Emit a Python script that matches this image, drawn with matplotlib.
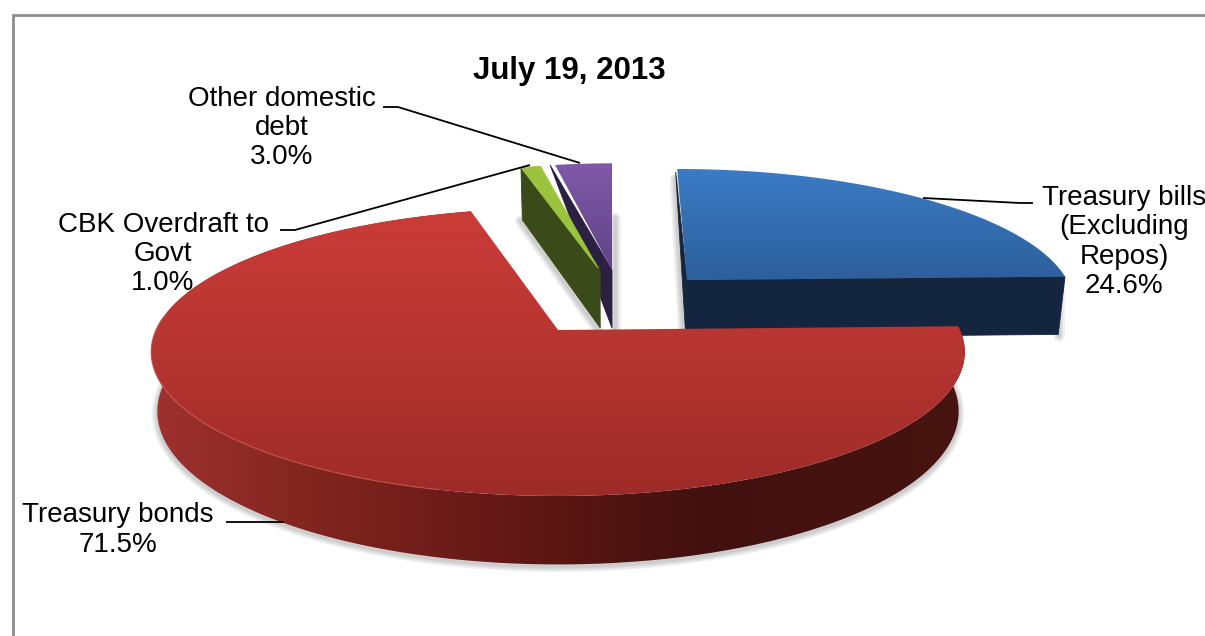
import numpy as np
import matplotlib
matplotlib.use("Agg")
import matplotlib.pyplot as plt
from matplotlib.colors import LinearSegmentedColormap, to_rgb
from matplotlib.patches import PathPatch
from matplotlib.path import Path

plt.rcParams["font.family"] = ["Liberation Sans", "DejaVu Sans"]

# Composition of domestic debt, percent
title = "July 19, 2013"
categories = ["Treasury bills\n(Excluding\nRepos)", "Treasury bonds", "CBK Overdraft to\nGovt", "Other domestic\ndebt"]
shares = [24.6, 71.5, 1.0, 3.0]

FS = 20.0
W, H = 1205, 636
fig = plt.figure(figsize=(W / 100, H / 100), dpi=100, facecolor="white")
ax = fig.add_axes([0, 0, 1, 1])
ax.set_xlim(0, W)
ax.set_ylim(H, 0)
ax.axis("off")

# Frame: only the top and left edges fall inside the canvas
ax.plot([W, 13, 13], [15, 15, H], color="#8c8c8c", lw=2.0, solid_joinstyle="miter", zorder=1)

# Slice angles, clockwise from twelve o'clock
fractions = np.array(shares) / 100.0
ends = np.cumsum(fractions) * 360.0
ends = ends / ends[-1] * 360.0
starts = np.concatenate([[0.0], ends[:-1]])


class Slice:
    """A pie wedge seen in perspective, anchored at its exploded apex."""

    def __init__(self, apex, a, b, depth, vx, k=0.153):
        self.ax, self.ay = apex
        self.a, self.b, self.depth, self.vx, self.k = a, b, depth, vx, k

    def top(self, theta):
        t = np.radians(theta)
        u, v = np.sin(t), np.cos(t)
        s = 1.0 / (1.0 + self.k * v)
        x = self.ax + self.a * u * s + (self.ax - self.vx) * (s - 1.0)
        y = self.ay - self.b * v * s
        return x, y

    def bottom(self, theta):
        x, y = self.top(theta)
        t = np.radians(theta)
        s = 1.0 / (1.0 + self.k * np.cos(t))
        return self.vx + (x - self.vx) * 0.985, y + self.depth * s

    def apex_bottom(self):
        return self.vx + (self.ax - self.vx) * 0.985, self.ay + self.depth


def gradient_fill(xs, ys, stops, axis, zorder):
    """Fill a polygon with a colour ramp running along x or y."""
    positions = np.array([p for p, _ in stops], float)
    rgb = np.array([to_rgb(c) for _, c in stops])
    lo, hi = positions.min(), positions.max()
    cmap = LinearSegmentedColormap.from_list(
        "ramp", [((p - lo) / (hi - lo), c) for p, c in zip(positions, rgb)], N=512)
    ramp = np.linspace(0, 1, 512)
    if axis == "y":
        img = ramp[:, None]
        extent = (min(xs) - 2, max(xs) + 2, hi, lo)
    else:
        img = ramp[None, :]
        extent = (lo, hi, max(ys) + 2, min(ys) - 2)
    im = ax.imshow(img, cmap=cmap, vmin=0, vmax=1, extent=extent, aspect="auto",
                   interpolation="bilinear", zorder=zorder)
    verts = np.column_stack([xs, ys])
    verts = np.vstack([verts, verts[0]])
    patch = PathPatch(Path(verts), transform=ax.transData, fc="none", ec="none")
    ax.add_patch(patch)
    im.set_clip_path(patch)


def soft_shadow(xs, ys, dx=0.0, dy=2.0, zorder=2):
    """Blurred grey edge along an open outline."""
    xs, ys = np.asarray(xs) + dx, np.asarray(ys) + dy
    for lw in (8, 6, 4, 2):
        ax.plot(xs, ys, color="#404040", lw=lw, alpha=0.07,
                solid_capstyle="round", zorder=zorder)


def solid(xs, ys, color, zorder):
    ax.fill(xs, ys, fc=color, ec=color, lw=0.6, zorder=zorder)


bills = Slice((687, 280), 380, 128, 58, 613)
bonds = Slice((558, 330), 402, 140.6, 58, 558)
overdraft = Slice((598, 268), 365, 119, 60, 613)
other = Slice((612, 270), 350, 123, 58, 612)

# Treasury bills wedge: two cut faces under the top surface
th = np.linspace(starts[0], ends[0], 120)
tx, ty = bills.top(th)
abx, aby = bills.apex_bottom()
ex, ey = bills.bottom(th[-1])
soft_shadow([ex + 1, ex + 1], [ey - 50, ey])
soft_shadow([abx - 2, tx[0] - 2], [aby, ty[0] + 8])
solid([bills.ax, tx[-1], ex, abx], [bills.ay, ty[-1], ey, aby], "#14263f", 3)
solid([tx[0] - 1.5, bills.ax, abx], [ty[0] + 3, bills.ay, aby], "#14263f", 3)
gradient_fill([bills.ax] + list(tx), [bills.ay] + list(ty),
              [(168, "#3b7cc6"), (280, "#2d5f9b")], "y", 4)

# Other domestic debt wedge
th = np.linspace(starts[3], ends[3], 12)
tx, ty = other.top(th)
abx, aby = other.apex_bottom()
soft_shadow([other.ax + 1, other.ax + 1], [ty[-1] + 55, aby], dx=2.0, dy=0.0)
solid([tx[0] - 5, other.ax, abx], [ty[0], other.ay, aby], "#2b1f42", 5)
gradient_fill([other.ax] + list(tx), [other.ay] + list(ty),
              [(162, "#8059a9"), (270, "#5e4486")], "y", 6)

# CBK overdraft wedge
th = np.linspace(starts[2], ends[2], 10)
tx, ty = overdraft.top(th)
bx0, by0 = overdraft.bottom(th[0])
abx, aby = overdraft.apex_bottom()
poly_x = [tx[0], bx0, abx + 2, overdraft.ax + 2]
poly_y = [ty[0], by0, aby, overdraft.ay]
soft_shadow([bx0, abx + 1], [by0, aby], dx=-2.0, dy=1.0)
solid(poly_x, poly_y, "#3a4a18", 7)
solid([overdraft.ax] + list(tx), [overdraft.ay] + list(ty), "#9bc33d", 8)

# Treasury bonds wedge, in front of the others
th = np.linspace(starts[1], ends[1], 500)
tx, ty = bonds.top(th)
bx, by = bonds.bottom(th)
side_x = np.concatenate([tx, bx[::-1]])
side_y = np.concatenate([ty, by[::-1]])
front = np.linspace(starts[1], 275, 300)
sx, sy = bonds.bottom(front)
soft_shadow(sx, sy, zorder=9)
gradient_fill(side_x, side_y,
              [(148, "#a03230"), (300, "#83261f"), (430, "#701d1a"),
               (560, "#5a1613"), (700, "#421110"), (968, "#47140f")], "x", 10)
gradient_fill([bonds.ax] + list(tx), [bonds.ay] + list(ty),
              [(208, "#cb3c38"), (330, "#b93632"), (496, "#9e2b28")], "y", 11)
rim = np.linspace(195, 275, 200)
rx, ry = bonds.top(rim)
ax.plot(rx, ry, color="#c8504a", lw=1.0, alpha=0.7, zorder=12)

# Leader lines
leader_style = dict(color="black", lw=1.3, zorder=13, solid_capstyle="butt")
ax.plot([923, 1020, 1033], [198, 203, 203], **leader_style)
ax.plot([226, 284], [522, 522], **leader_style)
ax.plot([280, 295, 530], [230, 230, 165], **leader_style)
ax.plot([383, 398, 580], [107, 107, 163], **leader_style)

# Data labels
centers = [(1124, 242), (118, 530), (163, 254), (282, 128)]
for name, share, (cx, cy) in zip(categories, shares, centers):
    ax.text(cx, cy, f"{name}\n{share:.1f}%", ha="center", va="center", ma="center",
            fontsize=FS, linespacing=1.16, color="black", zorder=14)

ax.text(569.5, 71, title, ha="center", va="center", fontsize=22.5,
        fontweight="bold", color="black", zorder=14)

fig.savefig("out.png", dpi=100, facecolor="white")
